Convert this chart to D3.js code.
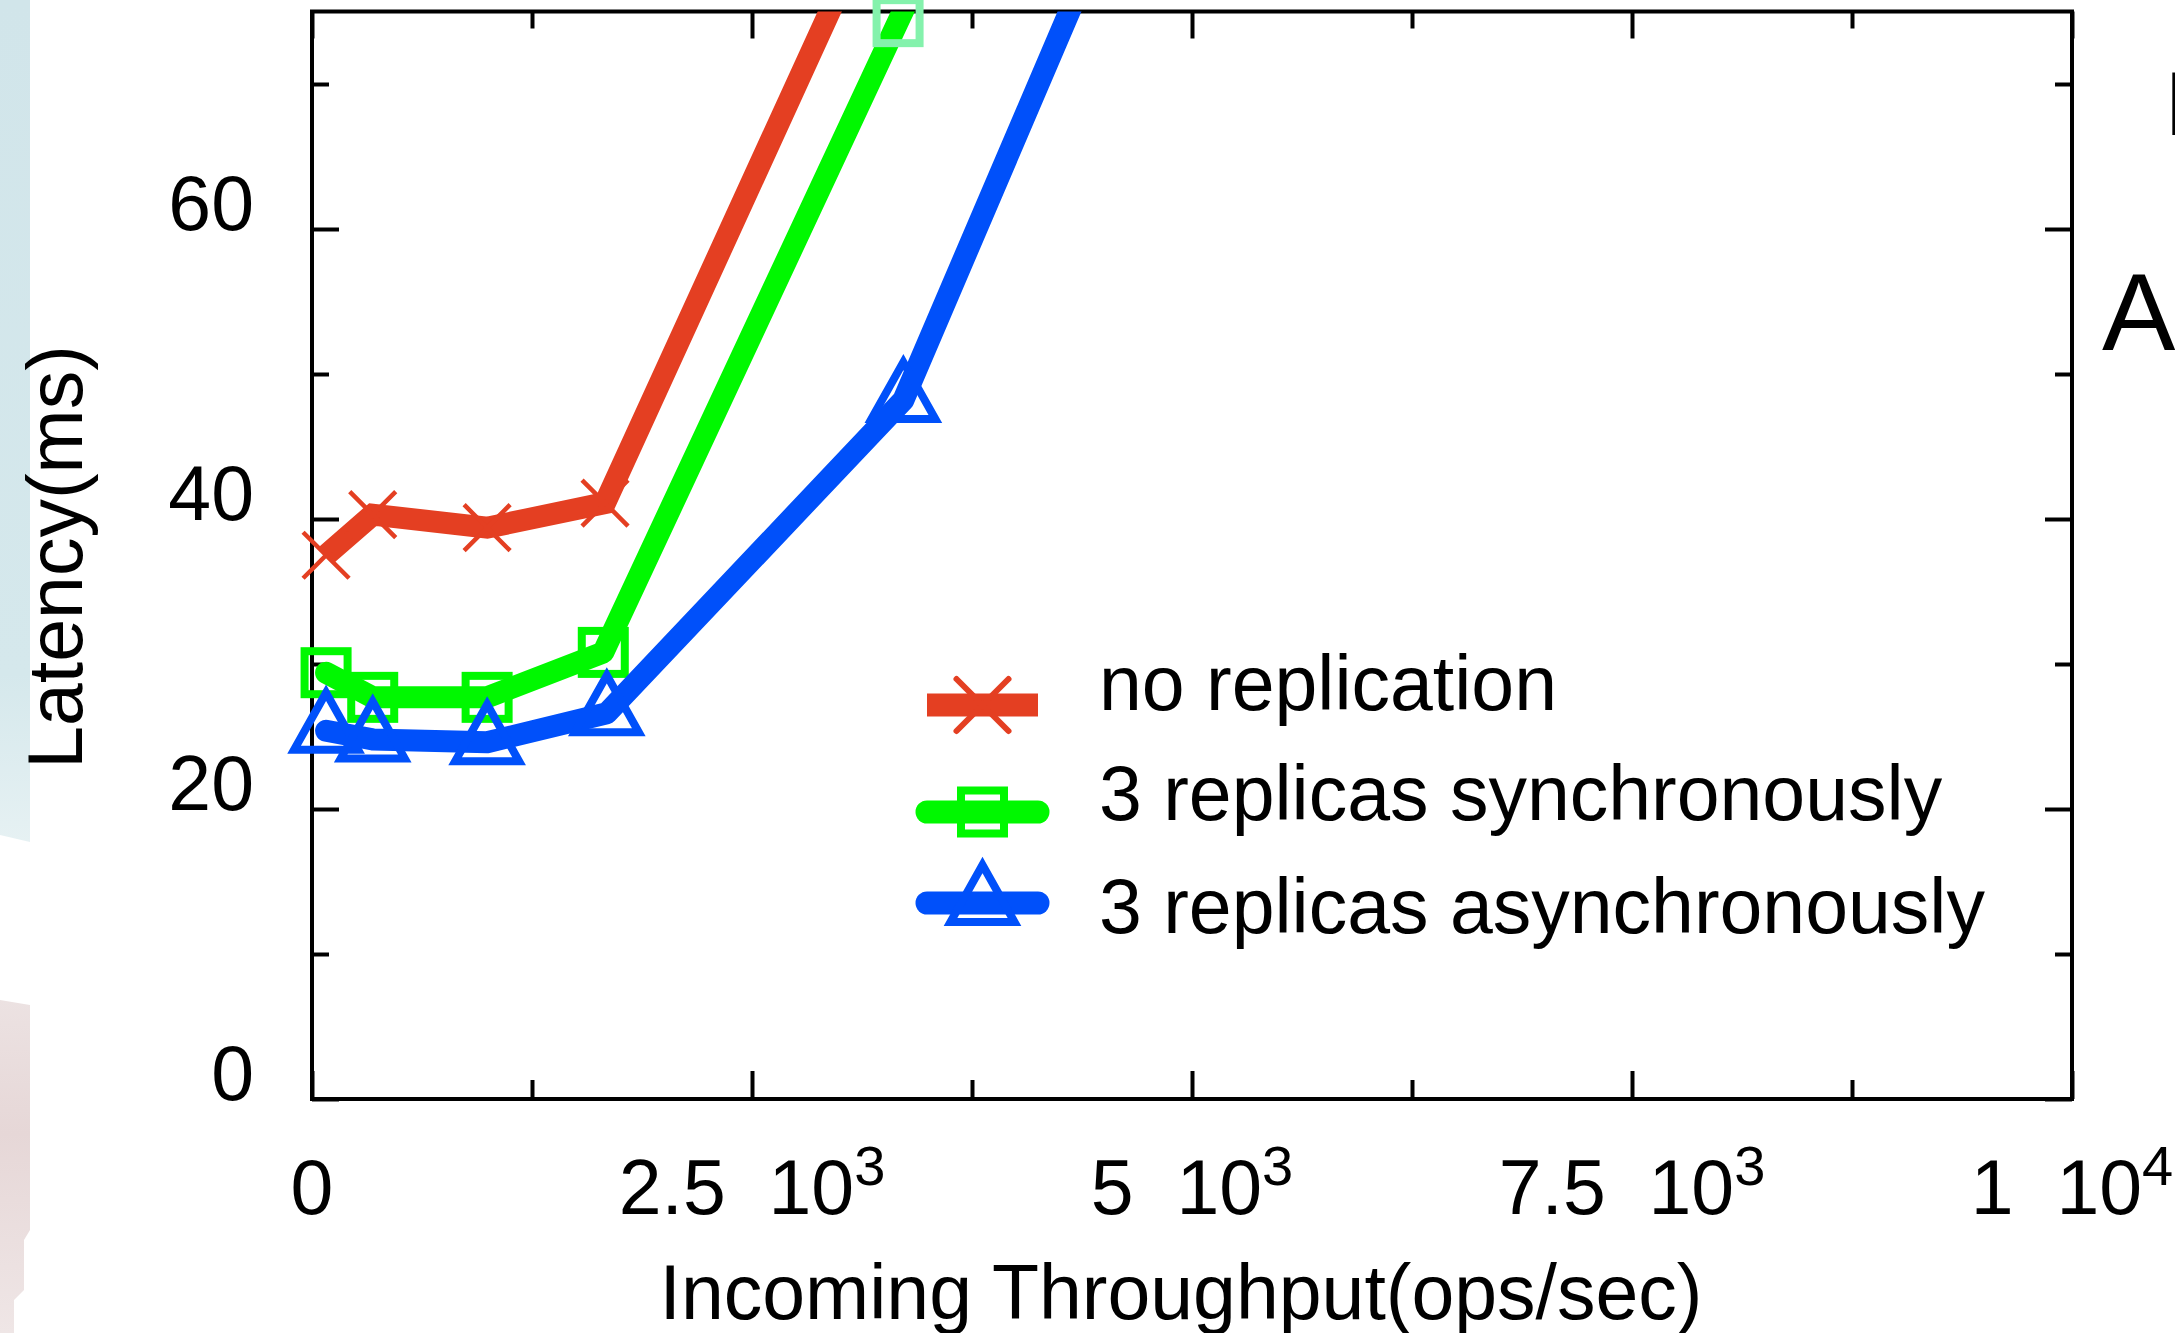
<!DOCTYPE html>
<html><head><meta charset="utf-8">
<script src="https://cdn.jsdelivr.net/npm/d3@7"></script>
<style>
body{margin:0;background:#fff;}
svg{display:block;}
text{font-family:"Liberation Sans",Arial,Helvetica,sans-serif;fill:#000;}
</style>
</head><body>
<svg id="chart" width="2175" height="1333"></svg>
<script>
// ---------- data ----------
const seriesNames = ["no replication", "3 replicas synchronously", "3 replicas asynchronously"];
const noReplicationX = [80, 345, 995, 1665, 3130];
const noReplicationY = [37.5, 40.3, 39.4, 41.1, 80];
const syncX = [80, 345, 995, 1655, 3330, 3550];
const syncY = [29.4, 27.7, 27.7, 30.8, 74.3, 80];
const asyncX = [80, 345, 995, 1675, 3360, 4480];
const asyncY = [25.4, 24.8, 24.6, 26.6, 48.2, 80];

const xMajorTicks = [0, 2500, 5000, 7500, 10000];
const xMinorTicks = [1250, 3750, 6250, 8750];
const xTickMantissa = ["0", "2.5", "5", "7.5", "1"];
const xTickExponent = ["", "3", "3", "3", "4"];
const yMajorTicks = [0, 20, 40, 60];
const yMinorTicks = [10, 30, 50, 70];
const yTickLabels = ["0", "20", "40", "60"];
const xTitle = "Incoming Throughput(ops/sec)";
const yTitle = "Latency(ms)";

// ---------- layout ----------
const pLeft = 312, pRight = 2072, pTop = 11.5, pBottom = 1099;
const FS = 77;
const colors = ["#e43f22", "#00f800", "#0050fa"];

const svg = d3.select("#chart");
const x = d3.scaleLinear().domain([0, 10000]).range([pLeft, pRight]);
const y = d3.scaleLinear().domain([0, 75]).range([pBottom, pTop]);

// decorative slide remnants on the left edge
const defs = svg.append("defs");
const gb = defs.append("linearGradient").attr("id","gb").attr("x1",0).attr("y1",0).attr("x2",0).attr("y2",1);
gb.append("stop").attr("offset","0").attr("stop-color","#d1e5ea");
gb.append("stop").attr("offset","0.8").attr("stop-color","#d5e8ec");
gb.append("stop").attr("offset","1").attr("stop-color","#e6f1f3");
const gp = defs.append("linearGradient").attr("id","gp").attr("x1",0).attr("y1",0).attr("x2",0).attr("y2",1);
gp.append("stop").attr("offset","0").attr("stop-color","#ece2e2");
gp.append("stop").attr("offset","0.4").attr("stop-color","#e6d7d7");
gp.append("stop").attr("offset","1").attr("stop-color","#efe6e6");
svg.append("path").attr("d","M0,0H30V842L0,835Z").attr("fill","url(#gb)");
svg.append("path").attr("d","M0,1000L30,1005V1230L24,1240V1290L14,1300V1333H0Z").attr("fill","url(#gp)");

// clip for the series lines
defs.append("clipPath").attr("id","plotclip").append("rect")
  .attr("x", pLeft).attr("y", pTop).attr("width", pRight - pLeft).attr("height", pBottom - pTop);

// ---------- axes (ticks inward on all four sides) ----------
function styleAxis(g){
  g.select(".domain").remove();
  g.selectAll(".tick line").attr("stroke","#000").attr("stroke-width",4);
  g.selectAll(".tick text").remove();
}
svg.append("g").attr("transform",`translate(0,${pBottom})`)
  .call(d3.axisBottom(x).tickValues(xMajorTicks).tickSize(-28).tickFormat("")).call(styleAxis);
svg.append("g").attr("transform",`translate(0,${pBottom})`)
  .call(d3.axisBottom(x).tickValues(xMinorTicks).tickSize(-19).tickFormat("")).call(styleAxis);
svg.append("g").attr("transform",`translate(0,${pTop})`)
  .call(d3.axisTop(x).tickValues(xMajorTicks).tickSize(-27).tickFormat("")).call(styleAxis);
svg.append("g").attr("transform",`translate(0,${pTop})`)
  .call(d3.axisTop(x).tickValues(xMinorTicks).tickSize(-17).tickFormat("")).call(styleAxis);
svg.append("g").attr("transform",`translate(${pLeft},0)`)
  .call(d3.axisLeft(y).tickValues(yMajorTicks).tickSize(-27).tickFormat("")).call(styleAxis);
svg.append("g").attr("transform",`translate(${pLeft},0)`)
  .call(d3.axisLeft(y).tickValues(yMinorTicks).tickSize(-17).tickFormat("")).call(styleAxis);
svg.append("g").attr("transform",`translate(${pRight},0)`)
  .call(d3.axisRight(y).tickValues(yMajorTicks).tickSize(-27).tickFormat("")).call(styleAxis);
svg.append("g").attr("transform",`translate(${pRight},0)`)
  .call(d3.axisRight(y).tickValues(yMinorTicks).tickSize(-17).tickFormat("")).call(styleAxis);

svg.append("rect").attr("x",pLeft).attr("y",pTop).attr("width",pRight-pLeft).attr("height",pBottom-pTop)
  .attr("fill","none").attr("stroke","#000").attr("stroke-width",4);

// tick labels
yMajorTicks.forEach((v,i)=>{
  svg.append("text").attr("x", pLeft - 58).attr("y", y(v) + 1)
    .attr("text-anchor","end").attr("font-size",FS).text(yTickLabels[i]);
});
xMajorTicks.forEach((v,i)=>{
  const t = svg.append("text").attr("x", x(v)).attr("y", 1214)
    .attr("text-anchor","middle").attr("font-size",FS).style("white-space","pre");
  if (xTickExponent[i]) {
    t.append("tspan").text(xTickMantissa[i] + "  10");
    t.append("tspan").attr("font-size",56).attr("dy",-29).text(xTickExponent[i]);
  } else {
    t.text(xTickMantissa[i]);
  }
});

// axis titles
svg.append("text").attr("x",1181).attr("y",1319).attr("text-anchor","middle")
  .attr("font-size",FS).text(xTitle);
svg.append("text").attr("transform","translate(82,557) rotate(-90)").attr("text-anchor","middle")
  .attr("font-size",FS).text(yTitle);

// ---------- series ----------
const series = [
  {xs: noReplicationX, ys: noReplicationY, marker: "x", cap: "butt", join: "miter"},
  {xs: syncX, ys: syncY, marker: "square", cap: "round", join: "round"},
  {xs: asyncX, ys: asyncY, marker: "triangle", cap: "round", join: "round"},
];
const line = d3.line().x(d=>x(d[0])).y(d=>y(d[1]));

function drawMarker(g, type, cx, cy, color, legend){
  if (type === "x") {
    const h = legend ? 26 : 23;
    g.append("path").attr("d",`M${cx-h},${cy-h}L${cx+h},${cy+h}M${cx-h},${cy+h}L${cx+h},${cy-h}`)
      .attr("stroke",color).attr("stroke-width",legend?6:4.5).attr("stroke-linecap",legend?"round":"butt").attr("fill","none");
  } else if (type === "square") {
    g.append("rect").attr("x",cx-21.5).attr("y",cy-21.5).attr("width",43).attr("height",43)
      .attr("fill","none").attr("stroke",color).attr("stroke-width",8);
  } else {
    g.append("path").attr("d",`M${cx},${cy-38}L${cx+32},${cy+19}L${cx-32},${cy+19}Z`)
      .attr("fill","none").attr("stroke",color).attr("stroke-width",8).attr("stroke-linejoin","miter");
  }
}

series.forEach((s,i)=>{
  const pts = s.xs.map((v,j)=>[v, s.ys[j]]);
  const g = svg.append("g");
  g.append("path").datum(pts).attr("d",line).attr("clip-path","url(#plotclip)")
    .attr("fill","none").attr("stroke",colors[i]).attr("stroke-width",22)
    .attr("stroke-linecap",s.cap).attr("stroke-linejoin",s.join);
  pts.filter(d=>d[1] <= 75).forEach(d=>{
    const c = d[1] > 74 ? "#84f2ac" : colors[i];
    drawMarker(g, s.marker, x(d[0]), y(d[1]), c, false);
  });
});

// ---------- legend ----------
const legSymY = [705, 812, 903];
const legTextY = [710, 820, 933];
series.forEach((s,i)=>{
  const g = svg.append("g");
  g.append("line").attr("x1",927).attr("x2",1038).attr("y1",legSymY[i]).attr("y2",legSymY[i])
    .attr("stroke",colors[i]).attr("stroke-width",23).attr("stroke-linecap",s.cap);
  drawMarker(g, s.marker, 982.5, legSymY[i], colors[i], true);
  g.append("text").attr("x",1099).attr("y",legTextY[i]).attr("font-size",FS).text(seriesNames[i]);
});

// clipped text fragments at the right edge (from the surrounding slide)
svg.append("text").attr("x",2164).attr("y",135).attr("font-size",90).text("I");
svg.append("text").attr("x",2102).attr("y",350).attr("font-size",110).text("A");
</script>
</body></html>
